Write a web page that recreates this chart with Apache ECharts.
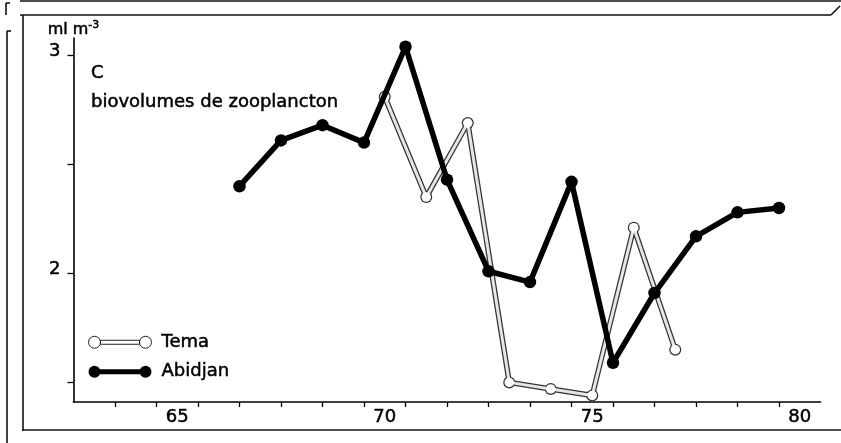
<!DOCTYPE html>
<html><head><meta charset="utf-8">
<script src="https://cdn.jsdelivr.net/npm/echarts@6/dist/echarts.min.js"></script>
<style>html,body{margin:0;padding:0;background:#fff}#c{width:841px;height:443px}</style>
</head><body><div id="c"></div>
<script>
const abidjanYears = [66.5,67.5,68.5,69.5,70.5,71.5,72.5,73.5,74.5,75.5,76.5,77.5,78.5,79.5];
const abidjanValues = [2.40,2.61,2.68,2.60,3.04,2.43,2.01,1.96,2.42,1.59,1.91,2.17,2.28,2.30];
const temaYears = [70,71,72,73,74,75,76,77];
const temaValues = [2.81,2.35,2.69,1.50,1.47,1.44,2.21,1.65];
const xTickValues = [63.5,64.5,65.5,66.5,67.5,68.5,69.5,70.5,71.5,72.5,73.5,74.5,75.5,76.5,77.5,78.5,79.5];
const xLabelValues = [65,70,75,80];
const yTickValues = [1.5,2,2.5,3];
const yLabelValues = [2,3];
const seriesNames = ['Tema','Abidjan'];
const titleLines = ['C','biovolumes de zooplancton'];

const FONT = 'DejaVu Sans';
const INK = '#000';
const BOLDEN = {textBorderColor:'#000', textBorderWidth:0.5};
const abidjanData = abidjanYears.map((x,i)=>[x, abidjanValues[i]]);
const temaData = temaYears.map((x,i)=>[x, temaValues[i]]);

const temaIcon = 'path://M6,0A6,6 0 1 1 6,12A6,6 0 1 1 6,0ZM12,4L51,4L51,8L12,8ZM57,0A6,6 0 1 1 57,12A6,6 0 1 1 57,0Z';
const abidjanIcon = 'path://M6,0A6,6 0 1 1 6,12A6,6 0 1 1 6,0ZM11,3.5L52,3.5L52,8.5L11,8.5ZM57,0A6,6 0 1 1 57,12A6,6 0 1 1 57,0Z';

const chart = echarts.init(document.getElementById('c'), null, {renderer:'canvas'});
const frame = {stroke:'#111', lineWidth:1.6};
chart.setOption({
  animation:false,
  backgroundColor:'#fff',
  textStyle:{fontFamily:FONT, color:INK},
  title:{
    text: titleLines.join('\n'),
    left: 86, top: 54,
    textStyle:Object.assign({fontFamily:FONT, fontSize:18, fontWeight:'normal', color:INK, lineHeight:29}, BOLDEN)
  },
  grid:{left:73.5, top:38, width:747, height:364, containLabel:false},
  legend:{
    orient:'vertical', left:83, top:328, itemGap:11,
    itemWidth:63, itemHeight:12,
    textStyle:Object.assign({fontFamily:FONT, fontSize:18, color:INK, padding:[0,0,0,5]}, BOLDEN),
    data:[
      {name:'Tema', icon:temaIcon, itemStyle:{color:'#fff', borderColor:'#222', borderWidth:1}},
      {name:'Abidjan', icon:abidjanIcon, itemStyle:{color:'#000', borderWidth:0}}
    ]
  },
  xAxis:{
    type:'value', min:62.5, max:80.5,
    splitLine:{show:false},
    axisLine:{lineStyle:{color:INK, width:1.6}},
    axisTick:{show:true, length:5, lineStyle:{color:INK, width:1.3}, customValues:xTickValues},
    axisLabel:Object.assign({fontFamily:FONT, fontSize:18, color:INK, margin:6, customValues:xLabelValues}, BOLDEN)
  },
  yAxis:{
    type:'value', min:1.41, max:3.08,
    name:'{a|ml m}{b|-3}', nameLocation:'end', nameGap:0,
    nameTextStyle:{lineHeight:18, rich:{
      a:Object.assign({fontFamily:FONT, fontSize:16, color:INK, lineHeight:18, verticalAlign:'bottom'}, BOLDEN),
      b:Object.assign({fontFamily:FONT, fontSize:11, color:INK, lineHeight:18, verticalAlign:'top'}, BOLDEN)
    }},
    splitLine:{show:false},
    axisLine:{show:true, lineStyle:{color:INK, width:1.6}},
    axisTick:{show:true, length:6, lineStyle:{color:INK, width:1.3}, customValues:yTickValues},
    axisLabel:Object.assign({fontFamily:FONT, fontSize:18, color:INK, margin:13, verticalAlign:'bottom', lineHeight:8, customValues:yLabelValues}, BOLDEN)
  },
  series:[
    {
      name:'Tema-contour', type:'line', data:temaData, z:2, silent:true,
      symbol:'circle', symbolSize:12, itemStyle:{color:'#333'},
      lineStyle:{color:'#333', width:5.5}
    },
    {
      name:'Tema', type:'line', data:temaData, z:3,
      symbol:'circle', symbolSize:9.5, itemStyle:{color:'#fff'},
      lineStyle:{color:'#e6e6e6', width:3}
    },
    {
      name:'Abidjan', type:'line', data:abidjanData, z:4,
      symbol:'circle', symbolSize:12.5, itemStyle:{color:'#000'},
      lineStyle:{color:'#000', width:5.5}
    }
  ],
  graphic:[
    {type:'line', shape:{x1:20,y1:1,x2:841,y2:1}, style:frame, silent:true},
    {type:'line', shape:{x1:20,y1:15,x2:831,y2:15}, style:frame, silent:true},
    {type:'line', shape:{x1:831,y1:15,x2:840,y2:6}, style:frame, silent:true},
    {type:'line', shape:{x1:23,y1:15,x2:23,y2:431}, style:frame, silent:true},
    {type:'line', shape:{x1:7,y1:31,x2:7,y2:443}, style:frame, silent:true},
    {type:'line', shape:{x1:7,y1:31,x2:11,y2:31}, style:frame, silent:true},
    {type:'line', shape:{x1:6,y1:3,x2:6,y2:15}, style:frame, silent:true},
    {type:'line', shape:{x1:6,y1:3,x2:10,y2:3}, style:frame, silent:true},
    {type:'line', shape:{x1:22,y1:430,x2:841,y2:430}, style:frame, silent:true}
  ]
});
</script></body></html>
